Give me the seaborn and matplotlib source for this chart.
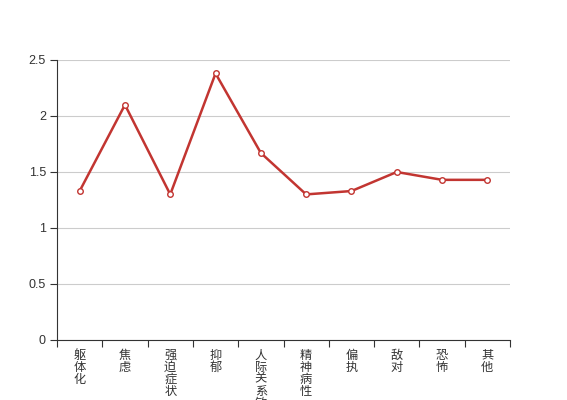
import numpy as np
import pandas as pd
import matplotlib
matplotlib.use("Agg")
import matplotlib.pyplot as plt
from matplotlib.ticker import FixedLocator
import seaborn as sns

# SCL-90 factor scores
factors = ["躯体化", "焦虑", "强迫症状", "抑郁", "人际关系敏感",
           "精神病性", "偏执", "敌对", "恐怖", "其他"]
scores = [1.33, 2.10, 1.30, 2.38, 1.67, 1.30, 1.33, 1.50, 1.43, 1.43]
y_ticks = [0, 0.5, 1, 1.5, 2, 2.5]
y_tick_labels = ["0", "0.5", "1", "1.5", "2", "2.5"]

df = pd.DataFrame({"factor": factors, "score": scores})

sns.set_style("white")
plt.rcParams["font.family"] = ["Liberation Sans", "Noto Sans CJK SC"]

fig = plt.figure(figsize=(5.67, 4), dpi=100)
ax = fig.add_axes([57 / 567, 60 / 400, 453 / 567, 280 / 400])

sns.lineplot(data=df, x="factor", y="score", ax=ax, color="#c23531",
             linewidth=1.8, marker="o", markersize=4,
             markerfacecolor="white", markeredgecolor="#c23531",
             markeredgewidth=1, zorder=3)

ax.set_xlim(-0.5, len(factors) - 0.5)
ax.set_ylim(0, 2.5)
ax.set_yticks(y_ticks)
ax.set_yticklabels(y_tick_labels)
ax.yaxis.grid(True, color="#cccccc", linewidth=0.8)
ax.set_axisbelow(True)

ax.set_xticks(range(len(factors)))
ax.set_xticklabels(["\n".join(f) for f in factors], linespacing=1.0,
                   va="top")
ax.xaxis.set_minor_locator(FixedLocator(np.arange(-0.5, len(factors), 1)))
ax.tick_params(axis="x", which="major", bottom=True, length=0, pad=7,
               labelsize=8.8, labelcolor="#333333")
ax.tick_params(axis="x", which="minor", bottom=True, length=5, width=0.8,
               color="#333333", direction="out")
ax.tick_params(axis="y", left=True, length=5, width=0.8, color="#333333",
               pad=3, labelsize=9, labelcolor="#333333", direction="out")

for side in ["top", "right"]:
    ax.spines[side].set_visible(False)
for side in ["left", "bottom"]:
    ax.spines[side].set_color("#333333")
    ax.spines[side].set_linewidth(0.8)

ax.set_xlabel("")
ax.set_ylabel("")

fig.savefig("out.png", dpi=100)
